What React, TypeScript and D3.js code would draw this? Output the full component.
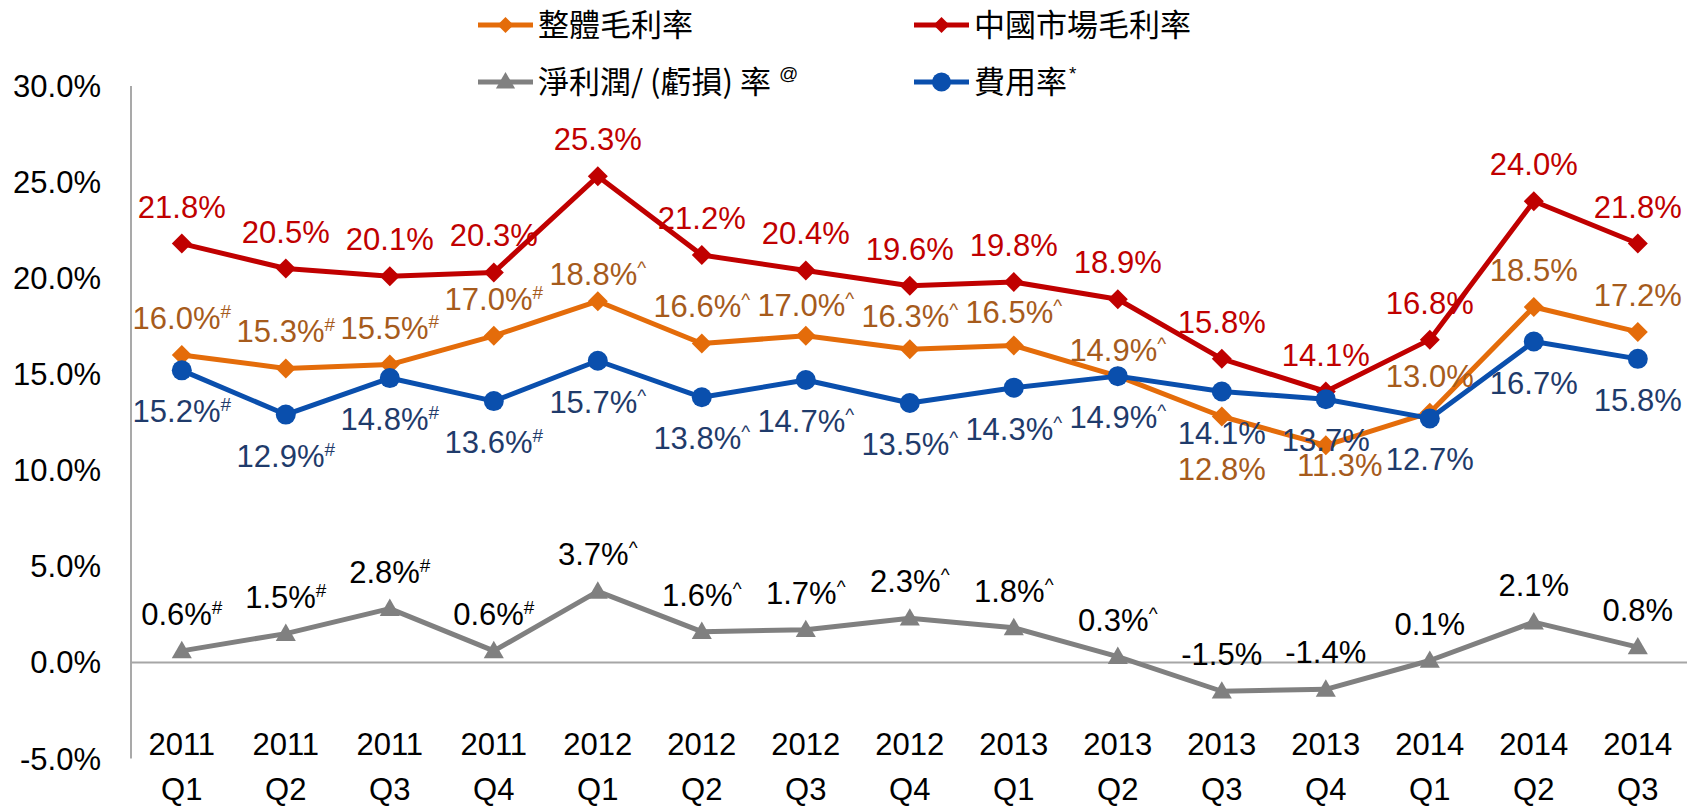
import React from "react";
import * as d3 from "d3";

// ---------- data ----------
const years = ["2011", "2011", "2011", "2011", "2012", "2012", "2012", "2012", "2013", "2013", "2013", "2013", "2014", "2014", "2014"];
const quarters = ["Q1", "Q2", "Q3", "Q4", "Q1", "Q2", "Q3", "Q4", "Q1", "Q2", "Q3", "Q4", "Q1", "Q2", "Q3"];
const overallMargin = [16.0, 15.3, 15.5, 17.0, 18.8, 16.6, 17.0, 16.3, 16.5, 14.9, 12.8, 11.3, 13.0, 18.5, 17.2];
const chinaMargin = [21.8, 20.5, 20.1, 20.3, 25.3, 21.2, 20.4, 19.6, 19.8, 18.9, 15.8, 14.1, 16.8, 24.0, 21.8];
const netMargin = [0.6, 1.5, 2.8, 0.6, 3.7, 1.6, 1.7, 2.3, 1.8, 0.3, -1.5, -1.4, 0.1, 2.1, 0.8];
const expenseRatio = [15.2, 12.9, 14.8, 13.6, 15.7, 13.8, 14.7, 13.5, 14.3, 14.9, 14.1, 13.7, 12.7, 16.7, 15.8];
const noteMarks = ["#", "#", "#", "#", "^", "^", "^", "^", "^", "^", "", "", "", "", ""];
const yTicks = [-5, 0, 5, 10, 15, 20, 25, 30];
const legendNames = ["整體毛利率", "中國市場毛利率", "淨利潤/ (虧損) 率", "費用率"];
const legendNotes = ["", "", "@", "*"];

// ---------- layout / style ----------
const W = 1687;
const H = 807;
const LATIN = "'Liberation Sans', Arial, sans-serif";
const CJK = "'Noto Sans CJK TC', 'Noto Sans CJK SC', sans-serif";
const FS = 31;
const fmtPct = (v: number) => d3.format(".1f")(v).replace("\u2212", "-") + "%";

type Marker = "diamond" | "triangle" | "circle";
interface Series {
  values: number[];
  notes: string[] | null;
  color: string;
  labelColor: string;
  marker: Marker;
  side: "above" | "below";
  overrides: Record<number, { side?: "above" | "below"; off?: number; dx?: number }>;
}

const series: Series[] = [
  {
    values: overallMargin,
    notes: noteMarks,
    color: "#E46C0A",
    labelColor: "#A65B1C",
    marker: "diamond",
    side: "above",
    overrides: {
      4: { off: 27 },
      6: { off: 31 },
      7: { off: 33 },
      8: { off: 33 },
      9: { off: 26 },
      10: { side: "below", off: 53 },
      11: { side: "below", off: 20, dx: 14 },
    },
  },
  { values: chinaMargin, notes: null, color: "#C00000", labelColor: "#C00000", marker: "diamond", side: "above", overrides: {} },
  { values: netMargin, notes: noteMarks, color: "#808080", labelColor: "#000000", marker: "triangle", side: "above", overrides: {} },
  { values: expenseRatio, notes: noteMarks, color: "#0A4FAD", labelColor: "#1F3B6B", marker: "circle", side: "below", overrides: {} },
];

const drawOrder = [0, 1, 2, 3];

function symbolPath(m: Marker, legend = false): string {
  if (m === "diamond") return d3.symbol(d3.symbolSquare, legend ? 128 : 200)()!;
  if (m === "triangle") return d3.symbol(d3.symbolTriangle, legend ? 160 : 175)()!;
  return d3.symbol(d3.symbolCircle, legend ? 283 : 314)()!;
}

export default function App() {
  const idx = d3.range(years.length);
  const x = d3.scaleBand<number>().domain(idx).range([129.8, 129.8 + 104 * years.length]).padding(0);
  const cx = (i: number) => (x(i) as number) + x.bandwidth() / 2;
  const y = d3.scaleLinear().domain([-5, 30]).range([758.5, 86]);
  const line = d3
    .line<number>()
    .x((_, i) => cx(i))
    .y((v) => y(v));

  const axisX = 131;

  const legendItems = [
    { s: 0, lx: 478, ly: 25 },
    { s: 1, lx: 914, ly: 25 },
    { s: 2, lx: 478, ly: 82 },
    { s: 3, lx: 914, ly: 82 },
  ];

  return (
    <div style={{ position: "absolute", left: 0, top: 0 }}>
      <svg width={W} height={H} style={{ display: "block", background: "#fff" }}>
        {/* y tick labels */}
        {yTicks.map((t) => (
          <text key={t} x={101} y={y(t) + 11} textAnchor="end" fontFamily={LATIN} fontSize={FS} fill="#000">
            {fmtPct(t)}
          </text>
        ))}
        {/* axes */}
        <line x1={axisX} x2={axisX} y1={y(30)} y2={y(-5)} stroke="#A0A0A0" strokeWidth={1.8} />
        <line x1={axisX} x2={W} y1={y(0)} y2={y(0)} stroke="#A6A6A6" strokeWidth={2} />

        {/* category labels */}
        {idx.map((i) => (
          <g key={i}>
            <text x={cx(i)} y={755} textAnchor="middle" fontFamily={LATIN} fontSize={FS} fill="#000">
              {years[i]}
            </text>
            <text x={cx(i)} y={800} textAnchor="middle" fontFamily={LATIN} fontSize={FS} fill="#000">
              {quarters[i]}
            </text>
          </g>
        ))}

        {/* lines and markers */}
        {drawOrder.map((si) => {
          const s = series[si];
          return (
            <g key={si}>
              <path d={line(s.values) || ""} fill="none" stroke={s.color} strokeWidth={5} strokeLinejoin="round" />
              {s.values.map((v, i) => (
                <path
                  key={i}
                  d={symbolPath(s.marker)}
                  transform={`translate(${cx(i)},${y(v) + (s.marker === "triangle" ? 1.5 : 0)})${s.marker === "diamond" ? " rotate(45)" : ""}`}
                  fill={s.color}
                />
              ))}
            </g>
          );
        })}

        {/* data labels */}
        {drawOrder.map((si) => {
          const s = series[si];
          return (
            <g key={"l" + si}>
              {s.values.map((v, i) => {
                const o = s.overrides[i] || {};
                const side = o.side || s.side;
                const off = o.off ?? (side === "above" ? 37 : 41);
                const centerY = side === "above" ? y(v) - off : y(v) + off;
                const note = s.notes ? s.notes[i] : "";
                return (
                  <text
                    key={i}
                    x={cx(i) + (o.dx || 0)}
                    y={centerY + 11}
                    textAnchor="middle"
                    fontFamily={LATIN}
                    fontSize={FS}
                    fill={s.labelColor}
                  >
                    <tspan>{fmtPct(v)}</tspan>
                    {note ? (
                      <tspan fontSize={19} dy={-11}>
                        {note}
                      </tspan>
                    ) : null}
                  </text>
                );
              })}
            </g>
          );
        })}

        {/* legend */}
        {legendItems.map((it) => {
          const s = series[it.s];
          return (
            <g key={"lg" + it.s}>
              <line x1={it.lx} x2={it.lx + 55} y1={it.ly} y2={it.ly} stroke={s.color} strokeWidth={5} />
              <path
                d={symbolPath(s.marker, true)}
                transform={`translate(${it.lx + 27.5},${it.ly + (s.marker === "triangle" ? 1 : 0)})${s.marker === "diamond" ? " rotate(45)" : ""}`}
                fill={s.color}
              />
              <text x={it.lx + 60} y={it.ly + 11} fontFamily={CJK} fontSize={FS} fill="#000">
                <tspan>{legendNames[it.s]}</tspan>
                {legendNotes[it.s] ? (
                  <tspan fontFamily={LATIN} fontSize={19} dx={legendNotes[it.s] === "@" ? 8 : 2} dy={-13}>
                    {legendNotes[it.s]}
                  </tspan>
                ) : null}
              </text>
            </g>
          );
        })}
      </svg>
    </div>
  );
}
